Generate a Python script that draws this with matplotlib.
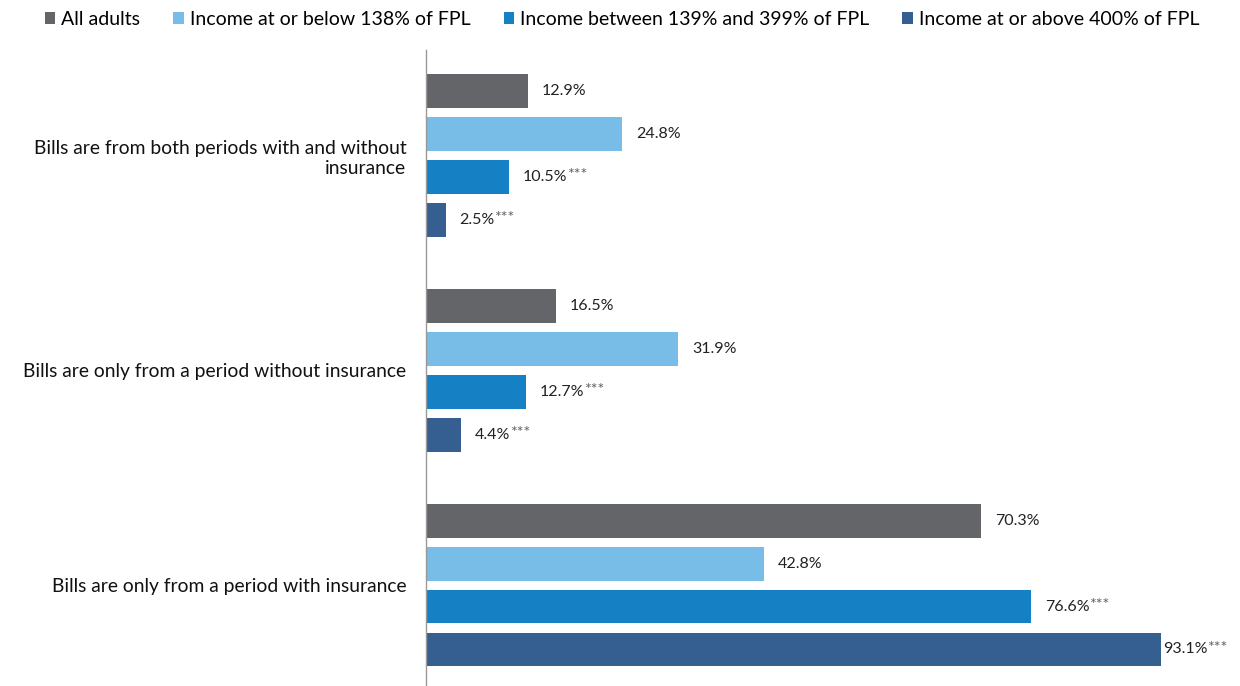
import matplotlib.pyplot as plt
import numpy as np

plt.rcParams['font.family'] = ['Lato', 'DejaVu Sans']

categories = ["Bills are from both periods with and without\ninsurance",
              "Bills are only from a period without insurance",
              "Bills are only from a period with insurance"]
series = ["All adults",
          "Income at or below 138% of FPL",
          "Income between 139% and 399% of FPL",
          "Income at or above 400% of FPL"]
values = [
    [12.9, 16.5, 70.3],
    [24.8, 31.9, 42.8],
    [10.5, 12.7, 76.6],
    [2.5, 4.4, 93.1],
]
stars = [
    ["", "", ""],
    ["", "", ""],
    ["***", "***", "***"],
    ["***", "***", "***"],
]
colors = ["#646569", "#77BDE8", "#1580C4", "#355F91"]

fig = plt.figure(figsize=(12.4, 6.86), dpi=100)
ax = fig.add_axes([0.3435, 0.0, 0.637, 0.927])

y = np.arange(len(categories))
offsets = [-0.3, -0.1, 0.1, 0.3]
height = 0.158

for i, name in enumerate(series):
    bars = ax.barh(y + offsets[i], values[i], height=height, color=colors[i],
                   label=name)
    for j, b in enumerate(bars):
        v = values[i][j]
        pad = 1 if v > 90 else 10
        t = ax.annotate(f"{v:.1f}%", xy=(v, b.get_y() + b.get_height() / 2),
                        xytext=(pad, 0), textcoords="offset points",
                        ha="left", va="center", fontsize=11.5, color="#222222")
        if stars[i][j]:
            # significance marks sit just after the percent sign
            ax.annotate(stars[i][j], xy=(0.99, 0.62), xycoords=t,
                        ha="left", va="center", fontsize=11.5, color="#666666")

ax.set_xlim(0, 100)
ax.set_ylim(2.47, -0.49)
ax.set_yticks(y)
ax.set_yticklabels(categories, fontsize=13.9, color="#111111", ha="right")
ax.tick_params(axis="y", length=0, pad=14)
ax.set_xticks([])
for s in ["top", "right", "bottom"]:
    ax.spines[s].set_visible(False)
ax.spines["left"].set_color("#999999")
ax.spines["left"].set_linewidth(1)

fig.legend(loc="upper left", bbox_to_anchor=(0.022, 1.01), ncol=4,
           frameon=False, fontsize=14, handlelength=0.55, handleheight=0.55,
           handletextpad=0.3, columnspacing=1.7)

fig.savefig("out.png", dpi=100)
